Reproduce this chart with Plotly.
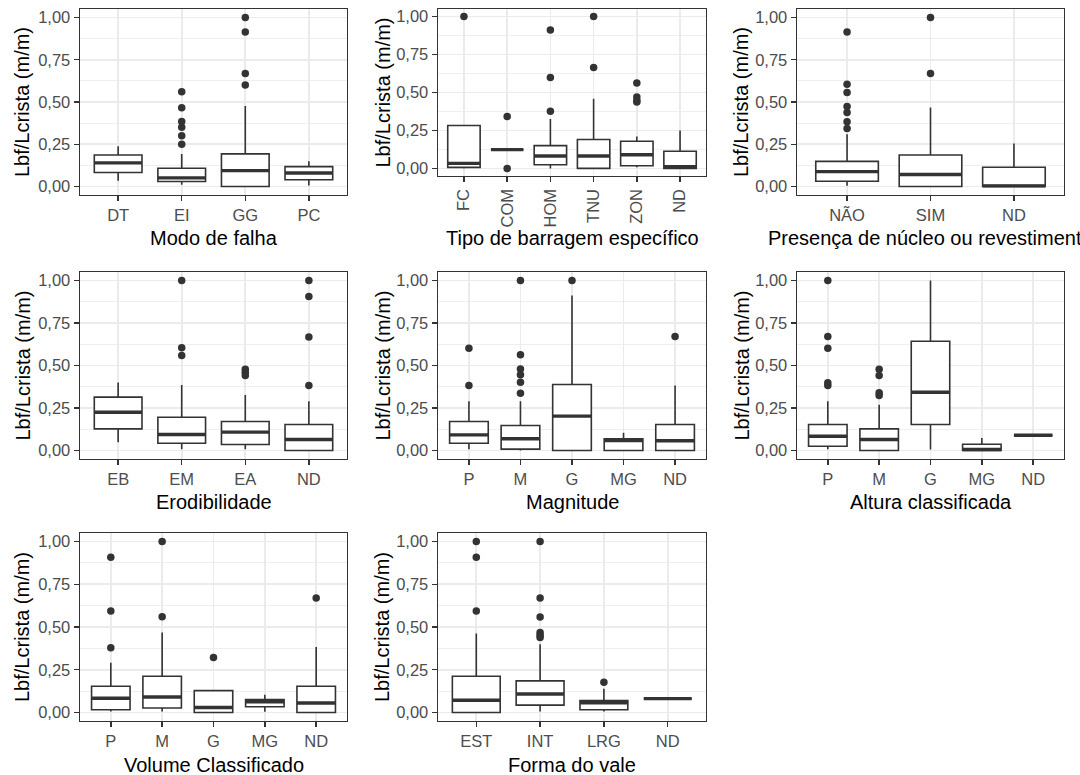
import plotly.graph_objects as go

# ---------------- data ----------------
modo_cats = ["DT", "EI", "GG", "PC"]
modo_q1 = [0.083, 0.030, 0.000, 0.040]
modo_med = [0.140, 0.051, 0.094, 0.080]
modo_q3 = [0.187, 0.108, 0.193, 0.118]
modo_lo = [0.035, 0.010, 0.000, 0.006]
modo_hi = [0.238, 0.193, 0.477, 0.150]
modo_out = [[], [0.56, 0.466, 0.385, 0.35, 0.30, 0.25], [1.0, 0.914, 0.668, 0.60], []]

tipo_cats = ["FC", "COM", "HOM", "TNU", "ZON", "ND"]
tipo_q1 = [0.007, 0.124, 0.024, 0.000, 0.018, 0.000]
tipo_med = [0.033, 0.124, 0.082, 0.082, 0.090, 0.011]
tipo_q3 = [0.283, 0.124, 0.150, 0.190, 0.179, 0.113]
tipo_lo = [0.000, 0.124, 0.000, 0.000, 0.007, 0.000]
tipo_hi = [0.283, 0.124, 0.325, 0.459, 0.210, 0.250]
tipo_out = [[1.0], [0.342, 0.0], [0.912, 0.598, 0.377], [1.0, 0.664], [0.563, 0.47, 0.448, 0.437], []]

nucleo_cats = ["NÃO", "SIM", "ND"]
nucleo_q1 = [0.031, 0.000, 0.000]
nucleo_med = [0.088, 0.071, 0.004]
nucleo_q3 = [0.149, 0.187, 0.114]
nucleo_lo = [0.005, 0.000, 0.000]
nucleo_hi = [0.310, 0.468, 0.255]
nucleo_out = [[0.914, 0.605, 0.556, 0.473, 0.438, 0.383, 0.344], [1.0, 0.668], []]

erod_cats = ["EB", "EM", "EA", "ND"]
erod_q1 = [0.127, 0.043, 0.035, 0.000]
erod_med = [0.225, 0.094, 0.108, 0.065]
erod_q3 = [0.314, 0.196, 0.171, 0.153]
erod_lo = [0.049, 0.008, 0.008, 0.000]
erod_hi = [0.400, 0.386, 0.327, 0.290]
erod_out = [[], [1.0, 0.604, 0.559], [0.478, 0.461, 0.441], [1.0, 0.906, 0.667, 0.382]]

mag_cats = ["P", "M", "G", "MG", "ND"]
mag_q1 = [0.043, 0.008, 0.000, 0.000, 0.000]
mag_med = [0.092, 0.069, 0.202, 0.059, 0.057]
mag_q3 = [0.171, 0.147, 0.388, 0.069, 0.153]
mag_lo = [0.008, 0.000, 0.000, 0.000, 0.000]
mag_hi = [0.290, 0.290, 0.912, 0.104, 0.382]
mag_out = [[0.602, 0.382], [1.0, 0.563, 0.48, 0.445, 0.402, 0.337], [1.0], [], [0.671]]

alt_cats = ["P", "M", "G", "MG", "ND"]
alt_q1 = [0.025, 0.000, 0.153, 0.000, 0.090]
alt_med = [0.084, 0.065, 0.343, 0.006, 0.090]
alt_q3 = [0.153, 0.127, 0.643, 0.037, 0.090]
alt_lo = [0.008, 0.000, 0.006, 0.000, 0.090]
alt_hi = [0.290, 0.269, 1.000, 0.073, 0.090]
alt_out = [[1.0, 0.671, 0.602, 0.398, 0.382], [0.478, 0.441, 0.339, 0.324], [], [], []]

vol_cats = ["P", "M", "G", "MG", "ND"]
vol_q1 = [0.016, 0.026, 0.000, 0.033, 0.000]
vol_med = [0.083, 0.090, 0.029, 0.063, 0.055]
vol_q3 = [0.153, 0.212, 0.128, 0.075, 0.153]
vol_lo = [0.006, 0.006, 0.000, 0.004, 0.000]
vol_hi = [0.291, 0.468, 0.128, 0.104, 0.383]
vol_out = [[0.908, 0.593, 0.379], [1.0, 0.56], [0.322], [], [0.67]]

vale_cats = ["EST", "INT", "LRG", "ND"]
vale_q1 = [0.000, 0.043, 0.016, 0.081]
vale_med = [0.071, 0.108, 0.057, 0.081]
vale_q3 = [0.212, 0.185, 0.069, 0.081]
vale_lo = [0.000, 0.006, 0.006, 0.081]
vale_hi = [0.462, 0.399, 0.138, 0.081]
vale_out = [[1.0, 0.908, 0.593], [1.0, 0.67, 0.558, 0.468, 0.452, 0.438], [0.177], []]

x_titles = ["Modo de falha", "Tipo de barragem específico",
            "Presença de núcleo ou revestimento", "Erodibilidade", "Magnitude",
            "Altura classificada", "Volume Classificado", "Forma do vale"]
y_title = "Lbf/Lcrista (m/m)"
y_tickvals = [0, 0.25, 0.5, 0.75, 1.0]
y_ticktext = ["0,00", "0,25", "0,50", "0,75", "1,00"]
y_minor = [0.125, 0.375, 0.625, 0.875]

panels = [
    (modo_cats, modo_q1, modo_med, modo_q3, modo_lo, modo_hi, modo_out),
    (tipo_cats, tipo_q1, tipo_med, tipo_q3, tipo_lo, tipo_hi, tipo_out),
    (nucleo_cats, nucleo_q1, nucleo_med, nucleo_q3, nucleo_lo, nucleo_hi, nucleo_out),
    (erod_cats, erod_q1, erod_med, erod_q3, erod_lo, erod_hi, erod_out),
    (mag_cats, mag_q1, mag_med, mag_q3, mag_lo, mag_hi, mag_out),
    (alt_cats, alt_q1, alt_med, alt_q3, alt_lo, alt_hi, alt_out),
    (vol_cats, vol_q1, vol_med, vol_q3, vol_lo, vol_hi, vol_out),
    (vale_cats, vale_q1, vale_med, vale_q3, vale_lo, vale_hi, vale_out),
]

# ---------------- layout geometry (pixels) ----------------
W, H = 1080, 775
col_px = [(80, 347), (438, 706), (797, 1064)]
row_px = [(9, 195), (272, 459), (533, 721)]
xtitle_y = [238, 502, 765]
ytitle_x = [22, 382, 741]

FONT = "Liberation Sans, Arial, sans-serif"
DARK = "#333333"
GRID = "#EBEBEB"
BOXW = 0.75

fig = go.Figure()
layout = dict(
    width=W, height=H, template="none",
    margin=dict(l=0, r=0, t=0, b=0, pad=0),
    paper_bgcolor="white", plot_bgcolor="white",
    showlegend=False, font=dict(family=FONT),
)
annotations = []

for k, (cats, q1, med, q3, lo, hi, outs) in enumerate(panels):
    r, c = divmod(k, 3)
    ax = "" if k == 0 else str(k + 1)
    xref, yref = "x" + ax, "y" + ax
    x0, x1 = col_px[c]
    top, bot = row_px[r]
    if k == 1:
        bot = 176
    idx = list(range(len(cats)))

    fig.add_trace(go.Box(
        x=idx, q1=q1, median=med, q3=q3, lowerfence=lo, upperfence=hi,
        width=BOXW, whiskerwidth=0, fillcolor="white", boxpoints=False,
        line=dict(color=DARK, width=1.6), xaxis=xref, yaxis=yref,
        hoverinfo="skip"))
    # thicker median segments (ggplot fatten)
    mx, my = [], []
    for i, m in zip(idx, med):
        mx += [i - BOXW / 2, i + BOXW / 2, None]
        my += [m, m, None]
    fig.add_trace(go.Scatter(x=mx, y=my, mode="lines",
                             line=dict(color=DARK, width=3.4),
                             xaxis=xref, yaxis=yref, hoverinfo="skip"))
    ox, oy = [], []
    for i, vals in zip(idx, outs):
        ox += [i] * len(vals)
        oy += vals
    fig.add_trace(go.Scatter(x=ox, y=oy, mode="markers",
                             marker=dict(color=DARK, size=7.5),
                             xaxis=xref, yaxis=yref, hoverinfo="skip"))

    common = dict(showline=True, mirror=True, linecolor=DARK, linewidth=1.4,
                  ticks="outside", ticklen=5, tickwidth=1.4, tickcolor=DARK,
                  showgrid=True, gridcolor=GRID, gridwidth=1.6, zeroline=False,
                  tickfont=dict(family=FONT, size=16.5, color="#4D4D4D"),
                  automargin=False, fixedrange=True)
    layout["xaxis" + ax] = dict(
        common, domain=[x0 / W, x1 / W], anchor=yref,
        range=[-0.6, len(cats) - 0.4], tickmode="array",
        tickvals=idx, ticktext=cats,
        tickangle=-90 if k == 1 else 0, ticklabelstandoff=0)
    layout["yaxis" + ax] = dict(
        common, domain=[1 - bot / H, 1 - top / H], anchor=xref,
        range=[-0.05, 1.05], tickmode="array",
        tickvals=y_tickvals, ticktext=y_ticktext, ticklabelstandoff=0,
        minor=dict(tickmode="array", tickvals=y_minor, showgrid=True,
                   gridcolor=GRID, gridwidth=0.8, ticks=""))

    annotations.append(dict(
        text=x_titles[k], xref="paper", yref="paper",
        x=(x0 + x1) / 2 / W, y=1 - xtitle_y[r] / H,
        xanchor="center", yanchor="middle", showarrow=False,
        font=dict(family=FONT, size=20, color="black")))
    annotations.append(dict(
        text=y_title, xref="paper", yref="paper",
        x=ytitle_x[c] / W, y=1 - (top + bot) / 2 / H, textangle=-90,
        xanchor="center", yanchor="middle", showarrow=False,
        font=dict(family=FONT, size=20, color="black")))

layout["annotations"] = annotations
fig.update_layout(**layout)
fig.write_html(
    "out.html",
    config={"displayModeBar": False, "staticPlot": True},
    post_script="document.body.style.margin='0';"
                "document.body.style.overflow='hidden';")
